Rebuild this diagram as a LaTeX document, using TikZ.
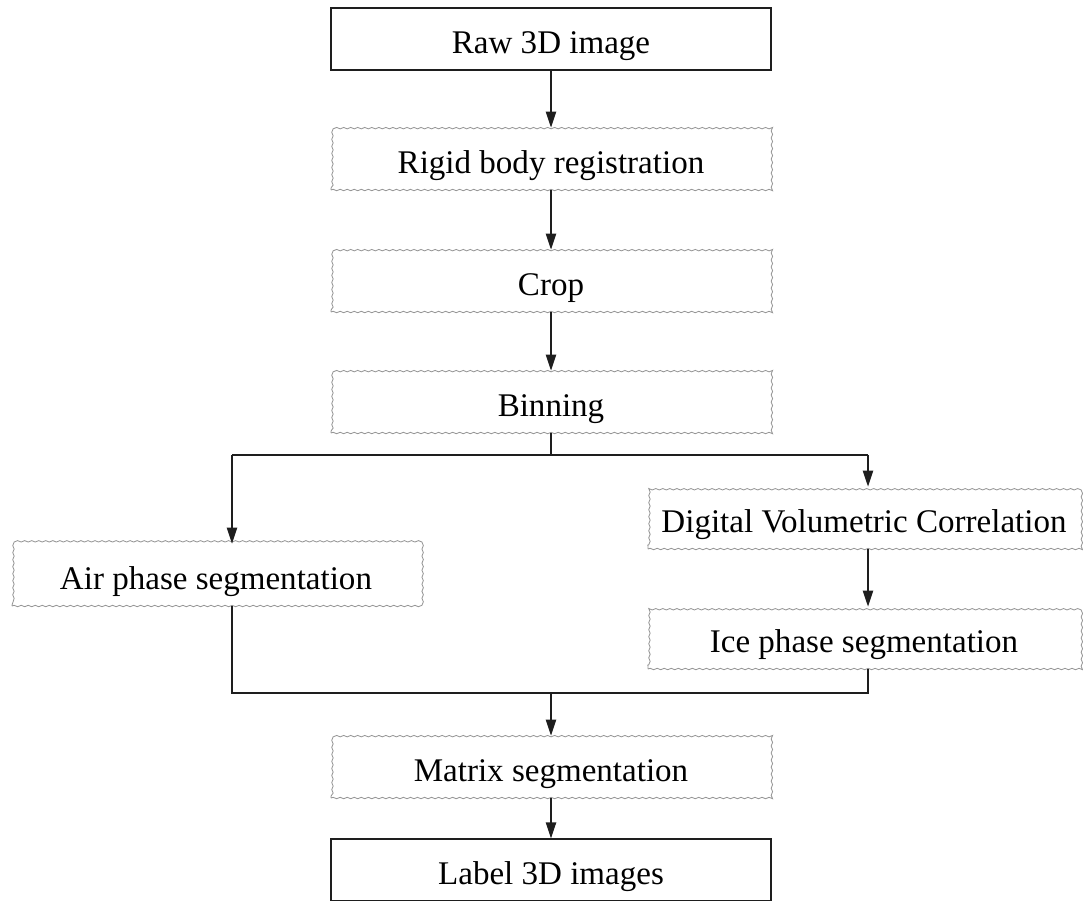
\documentclass[tikz,border=0pt]{standalone}
\usepackage{fontspec}
\setmainfont{Liberation Serif}
\usetikzlibrary{positioning,arrows.meta,decorations.pathmorphing}
\definecolor{fLine}{RGB}{30,30,30}
\definecolor{fWave}{RGB}{150,150,150}
\tikzset{
  solidbox/.style={rectangle, draw=fLine, line width=0.9pt, minimum width=11cm,
                   minimum height=1.55cm, inner sep=2pt, text height=0.85cm,
                   text depth=0.15cm, align=center, font=\fontsize{23.5}{27}\selectfont},
  wavebox/.style={solidbox, draw=fWave, line width=0.6pt, decorate,
                  decoration={snake, amplitude=0.5pt, segment length=5pt}},
  flow/.style={-{Triangle[length=4mm,width=2.6mm]}, draw=fLine, line width=0.9pt},
  link/.style={draw=fLine, line width=0.9pt},
}
\begin{document}
\begin{tikzpicture}[x=0.025cm, y=-0.025cm]
  \useasboundingbox (0,0) rectangle (1083,900);

  %====================== MAIN COLUMN ======================
  \node[solidbox] (raw)   at (551,39)  {Raw 3D image};
  \node[wavebox]  (rigid) at (551,159) {Rigid body registration};
  \node[wavebox]  (crop)  at (551,281) {Crop};
  \node[wavebox]  (bin)   at (551,402) {Binning};

  %====================== TWO BRANCHES ======================
  \node[wavebox, minimum width=10.2cm] (air) at (216,575) {Air phase segmentation};
  \node[wavebox, minimum width=10.8cm] (dvc) at (864,518) {Digital Volumetric Correlation};
  \node[wavebox, minimum width=10.8cm] (ice) at (864,638) {Ice phase segmentation};

  %====================== END ======================
  \node[wavebox]  (matrix) at (551,767) {Matrix segmentation};
  \node[solidbox] (label)  at (551,870) {Label 3D images};

  % split and merge points
  \coordinate (split) at (551,455);
  \coordinate (splitL) at (232,455);
  \coordinate (splitR) at (868,455);
  \coordinate (merge) at (551,693);
  \coordinate (mergeL) at (232,693);
  \coordinate (mergeR) at (868,693);

  %====================== CONNECTORS ======================
  \draw[flow] (raw) -- (rigid);
  \draw[flow] (rigid) -- (crop);
  \draw[flow] (crop) -- (bin);
  \draw[link] (bin) -- (split);
  \draw[link] (splitL) -- (splitR);
  \draw[flow] (splitL) -- (splitL |- air.north);
  \draw[flow] (splitR) -- (splitR |- dvc.north);
  \draw[flow] (dvc.south -| splitR) -- (ice.north -| splitR);
  \draw[link] (air.south -| mergeL) -- (mergeL) -- (mergeR) -- (ice.south -| mergeR);
  \draw[flow] (merge) -- (matrix);
  \draw[flow] (matrix) -- (label);

\end{tikzpicture}
\end{document}
